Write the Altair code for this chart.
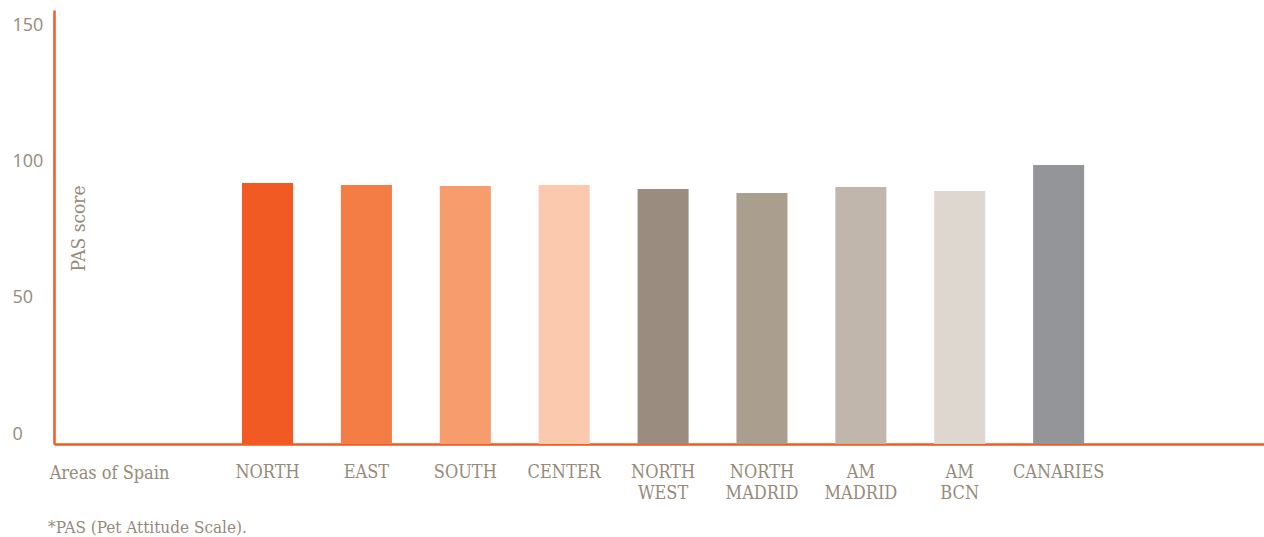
import altair as alt
import pandas as pd

areas = ["NORTH", "EAST", "SOUTH", "CENTER", "NORTH WEST", "NORTH MADRID",
         "AM MADRID", "AM BCN", "CANARIES"]
scores = [95.9, 95.1, 94.8, 95.1, 93.7, 92.2, 94.4, 92.9, 102.5]
colors = ["#f15a22", "#f47d46", "#f69c6d", "#fbcaae", "#9a8c7e", "#aa9e8f",
          "#c0b6ab", "#ded7d0", "#949599"]
y_ticks = [0, 50, 100, 150]

# empty slots on both sides of the bars
x_domain = ["_pad1"] + areas + ["_pad2"]

ORANGE = "#f15a22"
TEXT = "#988a7b"
SERIF = "DejaVu Serif Condensed, Liberation Serif"

df = pd.DataFrame({"area": areas, "score": scores})

chart = alt.Chart(df).mark_bar().encode(
    x=alt.X(
        "area:N",
        scale=alt.Scale(domain=x_domain, paddingInner=0.484, paddingOuter=0.86, align=0.524),
        axis=alt.Axis(
            title="Areas of Spain",
            titleFont=SERIF, titleFontSize=18, titleFontWeight="normal",
            titleColor=TEXT, titleX=55, titleY=34, titleAlign="center",
            titleBaseline="alphabetic", titleAngle=0,
            labelFont=SERIF, labelFontSize=18, labelColor=TEXT,
            labelAngle=0,
            labelExpr="indexof(datum.label, '_pad') == 0 ? '' : split(datum.label, ' ')",
            labelLineHeight=21, labelPadding=19, labelBaseline="top",
            ticks=False, tickSize=0, domainColor=ORANGE, domainWidth=2.5,
            grid=False,
        ),
    ),
    y=alt.Y(
        "score:Q",
        scale=alt.Scale(domain=[0, 159.4], nice=False, zero=True),
        axis=alt.Axis(
            title="PAS score",
            titleFont=SERIF, titleFontSize=19, titleFontWeight="normal",
            titleColor=TEXT, titleX=24, titleY=218, titleAngle=-90,
            titleAlign="center", titleBaseline="middle",
            values=y_ticks, labelFont="Open Sans", labelFontSize=18,
            labelColor=TEXT, labelAlign="left", labelPadding=42,
            labelOffset=-10, labelBaseline="middle",
            ticks=False, tickSize=0, domainColor=ORANGE, domainWidth=2.5,
            grid=False,
        ),
    ),
    color=alt.Color("area:N", scale=alt.Scale(domain=areas, range=colors), legend=None),
).properties(
    width=1210,
    height=434,
    title=alt.TitleParams(
        "*PAS (Pet Attitude Scale).",
        orient="bottom", anchor="start", frame="group", dx=-6,
        font=SERIF, fontSize=17, fontWeight="normal", color=TEXT,
        baseline="alphabetic", offset=31,
    ),
    autosize=alt.AutoSizeParams(type="none"),
    padding={"left": 54, "top": 10, "right": 0, "bottom": 93},
).configure(background="white").configure_view(strokeWidth=0, stroke=None)

chart.save("out.html", embed_options={"renderer": "svg", "actions": False})
